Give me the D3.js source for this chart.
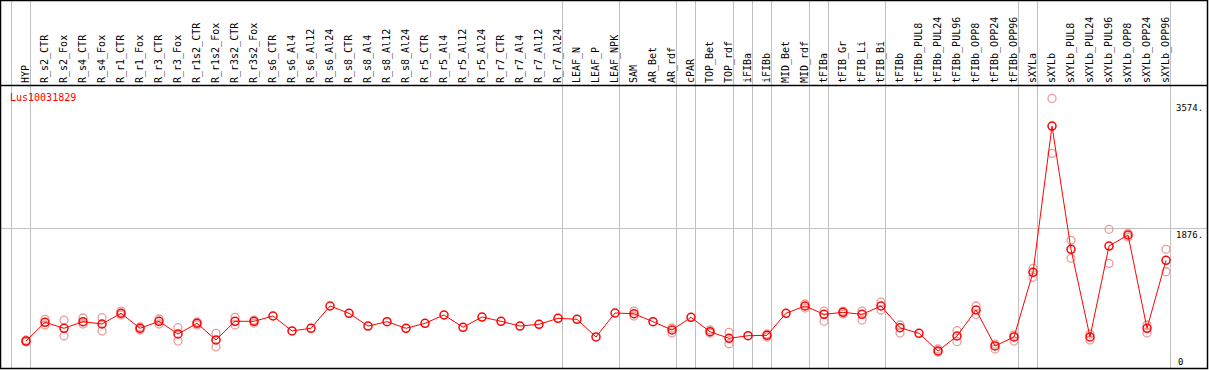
<!DOCTYPE html>
<html>
<head>
<meta charset="utf-8">
<script src="https://cdn.jsdelivr.net/npm/d3@7"></script>
<style>
  body { margin: 0; background: #fff; }
  text { font-family: "DejaVu Sans Mono", monospace; }
</style>
</head>
<body>
<div id="chart"></div>
<script>
var width = 1209;
var height = 370;

var geneName = 'Lus10031829';

var samples = ['HYP', 'R_s2_CTR', 'R_s2_Fox', 'R_s4_CTR', 'R_s4_Fox', 'R_r1_CTR', 'R_r1_Fox',
  'R_r3_CTR', 'R_r3_Fox', 'R_r1s2_CTR', 'R_r1s2_Fox', 'R_r3s2_CTR', 'R_r3s2_Fox',
  'R_s6_CTR', 'R_s6_Al4', 'R_s6_Al12', 'R_s6_Al24', 'R_s8_CTR', 'R_s8_Al4', 'R_s8_Al12', 'R_s8_Al24',
  'R_r5_CTR', 'R_r5_Al4', 'R_r5_Al12', 'R_r5_Al24', 'R_r7_CTR', 'R_r7_Al4', 'R_r7_Al12', 'R_r7_Al24',
  'LEAF_N', 'LEAF_P', 'LEAF_NPK', 'SAM', 'AR_Bet', 'AR_rdf', 'cPAR', 'TOP_Bet', 'TOP_rdf',
  'iFIBa', 'iFIBb', 'MID_Bet', 'MID_rdf', 'tFIBa', 'tFIB_Gr', 'tFIB_Li', 'tFIB_Bi',
  'tFIBb', 'tFIBb_PUL8', 'tFIBb_PUL24', 'tFIBb_PUL96', 'tFIBb_OPP8', 'tFIBb_OPP24', 'tFIBb_OPP96',
  'sXYLa', 'sXYLb', 'sXYLb_PUL8', 'sXYLb_PUL24', 'sXYLb_PUL96', 'sXYLb_OPP8', 'sXYLb_OPP24', 'sXYLb_OPP96'];

// mean expression per sample
var means = [373, 623, 543, 631, 600, 743, 543, 636, 467, 609, 387, 636, 636,
  707, 507, 543, 840, 743, 573, 631, 543, 609, 720, 556, 693, 636, 573, 596, 676,
  663, 427, 747, 737, 631, 520, 689, 497, 409, 444, 449, 743, 840, 729, 756, 729, 840,
  550, 476, 240, 440, 787, 307, 427,
  1289, 3240, 1596, 427, 1640, 1787, 543, 1449];

// replicate values (null = no visible replicate)
var rep1 = [387, 663, 653, 680, 684, 773, 560, 667, 551, 627, 476, 689, 653,
  null, null, null, null, null, null, null, null, null, null, null, null, null, null, null, null,
  null, null, null, 773, null, 547, null, 520, 489, null, 467, null, 867, 773, 773, 773, 893,
  587, null, 267, 511, 840, 333, 453,
  1343, 3609, 1716, 467, 1863, 1813, 587, 1596];
var rep2 = [360, 587, 440, 600, 507, 720, 520, 600, 373, 587, 297, 587, 613,
  null, null, null, null, null, null, null, null, null, null, null, null, null, null, null, null,
  null, null, null, 707, null, 480, null, 480, 337, null, 427, null, 813, 636, 733, 653, 787,
  480, null, 227, 364, 729, 267, 373,
  1223, 2876, 1476, 387, 1409, 1760, 480, 1297];

// indexes where a grey separator line starts a new group
var groupBreaks = [0, 1, 29, 32, 35, 36, 38, 39, 40, 42, 43, 46, 53, 54, 61];

var yTicks = [3574, 1876, 0];

var headerBottom = 85;
var plotBottom = 369;

var svg = d3.select('#chart')
  .append('svg')
  .attr('width', width)
  .attr('height', height);

var x = d3.scaleLinear()
  .domain([0, samples.length])
  .range([11, 11 + 19 * samples.length]);

var y = d3.scaleLinear()
  .domain([0, 3574])
  .range([369, 101]);

function cx(i) {
  return x(i) + 15;
}

// group separators
svg.selectAll('line.sep')
  .data(groupBreaks)
  .enter()
  .append('line')
  .attr('class', 'sep')
  .attr('x1', function(d) { return x(d) + 0.5; })
  .attr('x2', function(d) { return x(d) + 0.5; })
  .attr('y1', 0)
  .attr('y2', plotBottom)
  .style('stroke', '#c0c0c0')
  .style('stroke-width', 1);

// middle grid line
svg.append('line')
  .attr('x1', 1)
  .attr('x2', 1207)
  .attr('y1', Math.round(y(1876)) + 0.5)
  .attr('y2', Math.round(y(1876)) + 0.5)
  .style('stroke', '#c0c0c0');

// frame
svg.append('rect')
  .attr('x', 0.5)
  .attr('y', 0.5)
  .attr('width', 1207)
  .attr('height', 368)
  .style('fill', 'none')
  .style('stroke', '#000')
  .style('stroke-width', 1.5);

svg.append('line')
  .attr('x1', 0)
  .attr('x2', 1208)
  .attr('y1', headerBottom + 0.5)
  .attr('y2', headerBottom + 0.5)
  .style('stroke', '#000')
  .style('stroke-width', 1.5);

// sample labels
svg.selectAll('text.sample')
  .data(samples)
  .enter()
  .append('text')
  .attr('class', 'sample')
  .attr('transform', function(d, i) {
    return 'translate(' + (cx(i) + 3) + ',' + (headerBottom - 2) + ') rotate(-90)';
  })
  .style('font-size', '10px')
  .style('fill', '#000')
  .text(function(d) { return d; });

// right axis labels
svg.selectAll('text.tick')
  .data(yTicks)
  .enter()
  .append('text')
  .attr('class', 'tick')
  .attr('x', function(d) { return d === 0 ? 1178 : 1176; })
  .attr('y', function(d) { return d === 0 ? 365 : y(d) + 10; })
  .style('font-size', '9px')
  .style('fill', '#000')
  .text(function(d) { return d === 0 ? '0' : d + '.'; });

// gene name
svg.append('text')
  .attr('x', 10)
  .attr('y', 101)
  .style('font-size', '10px')
  .style('fill', '#ff0000')
  .text(geneName);

// replicates
var reps = [];
samples.forEach(function(s, i) {
  if (rep1[i] !== null) reps.push({ i: i, v: rep1[i] });
  if (rep2[i] !== null) reps.push({ i: i, v: rep2[i] });
});

svg.selectAll('circle.rep')
  .data(reps)
  .enter()
  .append('circle')
  .attr('class', 'rep')
  .attr('cx', function(d) { return cx(d.i); })
  .attr('cy', function(d) { return y(d.v); })
  .attr('r', 4)
  .style('fill', 'none')
  .style('stroke', '#ec9a9a')
  .style('stroke-width', 1.3);

// mean line
var line = d3.line()
  .x(function(d, i) { return cx(i); })
  .y(function(d) { return y(d); });

svg.append('path')
  .datum(means)
  .attr('d', line)
  .style('fill', 'none')
  .style('stroke', '#ff0000')
  .style('stroke-width', 1);

svg.selectAll('circle.mean')
  .data(means)
  .enter()
  .append('circle')
  .attr('class', 'mean')
  .attr('cx', function(d, i) { return cx(i); })
  .attr('cy', function(d) { return y(d); })
  .attr('r', 4)
  .style('fill', 'none')
  .style('stroke', '#ff0000')
  .style('stroke-width', 1.5);
</script>
</body>
</html>
